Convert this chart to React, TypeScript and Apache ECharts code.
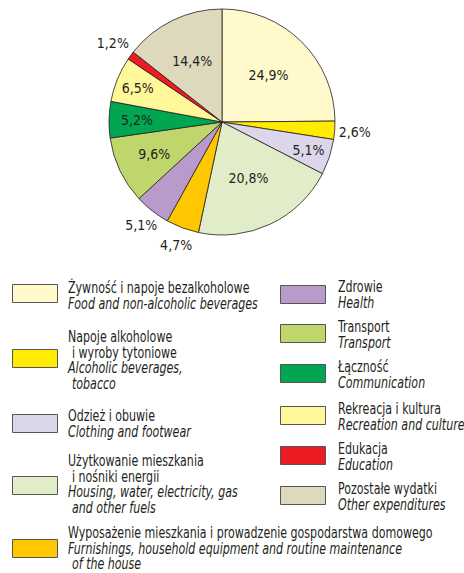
import React, { useEffect, useRef } from "react";
import * as echarts from "echarts";

// ---- data ----
const categoriesPl = [
  "Żywność i napoje bezalkoholowe",
  "Napoje alkoholowe i wyroby tytoniowe",
  "Odzież i obuwie",
  "Użytkowanie mieszkania i nośniki energii",
  "Wyposażenie mieszkania i prowadzenie gospodarstwa domowego",
  "Zdrowie",
  "Transport",
  "Łączność",
  "Rekreacja i kultura",
  "Edukacja",
  "Pozostałe wydatki",
];
const values = [24.9, 2.6, 5.1, 20.8, 4.7, 5.1, 9.6, 5.2, 6.5, 1.2, 14.4];
const legendPl: string[][] = [
  ["Żywność i napoje bezalkoholowe"],
  ["Napoje alkoholowe", " i wyroby tytoniowe"],
  ["Odzież i obuwie"],
  ["Użytkowanie mieszkania", " i nośniki energii"],
  ["Wyposażenie mieszkania i prowadzenie gospodarstwa domowego"],
  ["Zdrowie"],
  ["Transport"],
  ["Łączność"],
  ["Rekreacja i kultura"],
  ["Edukacja"],
  ["Pozostałe wydatki"],
];
const legendEn: string[][] = [
  ["Food and non-alcoholic beverages"],
  ["Alcoholic beverages,", " tobacco"],
  ["Clothing and footwear"],
  ["Housing, water, electricity, gas", " and other fuels"],
  ["Furnishings, household equipment and routine maintenance", " of the house"],
  ["Health"],
  ["Transport"],
  ["Communication"],
  ["Recreation and culture"],
  ["Education"],
  ["Other expenditures"],
];

// ---- styles / layout ----
const colors = [
  "#FFF9CB", "#FFEC00", "#DCD6EB", "#E1EDC8", "#FFC700", "#B99BCB",
  "#BED66B", "#00A651", "#FFF799", "#ED1C24", "#DED9BC",
];
const W = 464;
const H = 573;
const CX = 222;
const CY = 122;
const R = 113;
const labelRadius = [66, 133, 91, 62, 131, 131, 75, 85, 91, 135, 68];
const FONT = "'DejaVu Sans Condensed', 'Liberation Sans Narrow', sans-serif";
const TEXT_COLOR = "#231F20";
const LINE_H = 15.5;
const TEXT_SCALE = 0.82;
// legend layout: [boxX, boxY, textX, firstLineY]
const legendLayout: number[][] = [
  [12, 284, 68, 288],
  [12, 349, 68, 337],
  [12, 414, 68, 416],
  [12, 476, 68, 461],
  [12, 539, 68, 533],
  [280, 285, 338, 287],
  [280, 324, 338, 327],
  [280, 364, 338, 367],
  [280, 406, 338, 409],
  [280, 446, 338, 449],
  [280, 486, 338, 489],
];

function buildLegend() {
  const els: any[] = [];
  legendLayout.forEach(([bx, by, tx, ty], i) => {
    els.push({
      type: "rect",
      shape: { x: bx + 0.5, y: by + 0.5, width: 45, height: 18 },
      style: { fill: colors[i], stroke: "#555555", lineWidth: 1 },
    });
    const lines = [
      ...legendPl[i].map((t) => ({ t, it: false })),
      ...legendEn[i].map((t) => ({ t, it: true })),
    ];
    lines.forEach((ln, k) => {
      const indent = ln.t.startsWith(" ") ? 4 : 0;
      els.push({
        type: "text",
        x: tx + indent,
        y: ty + k * LINE_H,
        scaleX: TEXT_SCALE,
        style: {
          text: ln.t.trim(),
          font: `${ln.it ? "italic " : ""}15px ${FONT}`,
          fill: TEXT_COLOR,
          verticalAlign: "middle",
          align: "left",
        },
      });
    });
  });
  return els;
}

export default function App() {
  const ref = useRef<HTMLDivElement>(null);
  useEffect(() => {
    if (!ref.current) return;
    const chart = echarts.init(ref.current, null, { renderer: "svg" });
    chart.setOption({
      animation: false,
      backgroundColor: "#ffffff",
      series: [
        {
          type: "pie",
          center: [CX, CY],
          radius: [0, R],
          startAngle: 90,
          clockwise: true,
          avoidLabelOverlap: false,
          silent: true,
          itemStyle: { borderColor: "#231F20", borderWidth: 0.8 },
          label: {
            show: true,
            position: "inside",
            formatter: (p: any) => p.value.toFixed(1).replace(".", ",") + "%",
            fontFamily: FONT,
            fontSize: 14,
            color: TEXT_COLOR,
          },
          labelLine: { show: false },
          labelLayout: (p: any) => {
            const r = p.labelRect;
            const lx = r.x + r.width / 2;
            const ly = r.y + r.height / 2;
            const vx = lx - CX;
            const vy = ly - CY;
            const d = Math.hypot(vx, vy) || 1;
            const t = labelRadius[p.dataIndex];
            return {
              x: CX + (vx / d) * t,
              y: CY + (vy / d) * t,
              align: "center",
              verticalAlign: "middle",
            };
          },
          data: values.map((v, i) => ({
            name: categoriesPl[i],
            value: v,
            itemStyle: { color: colors[i] },
          })),
        },
      ],
      graphic: buildLegend(),
    });
    return () => chart.dispose();
  }, []);
  return (
    <div
      ref={ref}
      style={{ position: "fixed", left: 0, top: 0, width: W, height: H, background: "#fff" }}
    />
  );
}
